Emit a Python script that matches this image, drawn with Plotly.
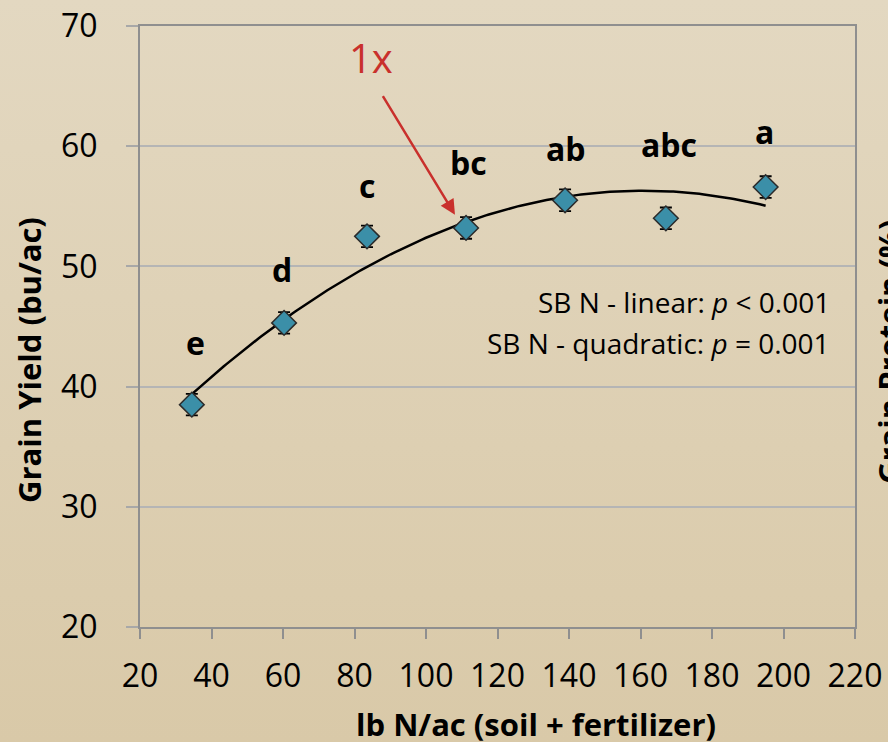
import base64
import numpy as np
import plotly.graph_objects as go

# Grain yield response to soil + fertilizer N
n_rate = [34.5, 60.3, 83.5, 111.2, 138.9, 167.1, 195.0]
yield_bu = [38.5, 45.3, 52.5, 53.2, 55.5, 54.0, 56.6]
yield_se = [0.9, 0.9, 0.9, 0.9, 0.9, 0.9, 0.9]
sig_letters = ["e", "d", "c", "bc", "ab", "abc", "a"]
letter_dx = [4, -2, 0, 2, 1, 3, -1]
letter_dy = [62, 53, 51, 65, 52, 74, 56]

# quadratic trend (vertex form): peak yield, N at peak, curvature
trend_peak = 56.3
trend_peak_n = 160.7
trend_curv = 0.001063

x_ticks = [20, 40, 60, 80, 100, 120, 140, 160, 180, 200, 220]
y_ticks = [20, 30, 40, 50, 60, 70]

W, H = 888, 742
ML, MR, MT, MB = 140, 33, 26, 115
PW, PH = W - ML - MR, H - MT - MB

FONT = "Open Sans"


def px_x(px):
    return (px - ML) / PW


def px_y(py):
    return (H - MB - py) / PH


xs = np.linspace(n_rate[0], n_rate[-1], 200)
ys = trend_peak - trend_curv * (xs - trend_peak_n) ** 2

fig = go.Figure()

fig.add_trace(go.Scatter(
    x=xs, y=ys, mode="lines",
    line=dict(color="black", width=2.5),
    hoverinfo="skip", showlegend=False,
))

fig.add_trace(go.Scatter(
    x=n_rate, y=yield_bu, mode="markers",
    marker=dict(symbol="diamond", size=19, color="#3b8fa8",
                line=dict(color="#2b2b2b", width=1.5)),
    error_y=dict(type="data", array=yield_se, visible=True,
                 color="black", thickness=1.8, width=6),
    showlegend=False,
))

annotations = []
for x, y, t, dx, dy in zip(n_rate, yield_bu, sig_letters, letter_dx, letter_dy):
    annotations.append(dict(
        x=x, y=y, text=f"<b>{t}</b>", showarrow=False,
        xshift=dx, yshift=dy,
        font=dict(family=FONT, size=32, color="black"),
    ))

annotations += [
    dict(x=213.6, y=47.0, xref="x", yref="y", xanchor="right",
         text="SB N - linear: <i>p</i> < 0.001", showarrow=False,
         font=dict(family=FONT, size=28, color="black")),
    dict(x=213.6, y=43.6, xref="x", yref="y", xanchor="right",
         text="SB N - quadratic: <i>p</i> = 0.001", showarrow=False,
         font=dict(family=FONT, size=28, color="black")),
    dict(x=84.6, y=67.4, xref="x", yref="y", text="1x", showarrow=False,
         font=dict(family=FONT, size=40, color="#c9302c")),
    dict(x=108.1, y=54.3, xref="x", yref="y", text="", showarrow=True,
         ax=-73, ay=-120, arrowhead=2, arrowsize=1.2, arrowwidth=2.5,
         arrowcolor="#c9302c", standoff=0, startstandoff=0),
    # axis titles
    dict(x=px_x(29), y=px_y(360), xref="paper", yref="paper",
         text="<b>Grain Yield (bu/ac)</b>", textangle=-90, showarrow=False,
         xanchor="center", yanchor="middle",
         font=dict(family=FONT, size=31, color="black")),
    dict(x=px_x(536), y=px_y(724), xref="paper", yref="paper",
         text="<b>lb N/ac (soil + fertilizer)</b>", showarrow=False,
         xanchor="center", yanchor="middle",
         font=dict(family=FONT, size=31, color="black")),
    dict(x=px_x(889), y=px_y(352), xref="paper", yref="paper",
         text="<b>Grain Protein (%)</b>", textangle=-90, showarrow=False,
         xanchor="center", yanchor="middle",
         font=dict(family=FONT, size=31, color="black")),
]

# tan page background with a soft vertical gradient
svg = (
    '<svg xmlns="http://www.w3.org/2000/svg" width="888" height="742">'
    '<defs><linearGradient id="g" x1="0" y1="0" x2="0" y2="1">'
    '<stop offset="0" stop-color="#e3d8c1"/>'
    '<stop offset="1" stop-color="#d9c9a8"/>'
    '</linearGradient></defs>'
    '<rect width="888" height="742" fill="url(#g)"/></svg>'
)
bg_src = "data:image/svg+xml;base64," + base64.b64encode(svg.encode()).decode()

fig.update_layout(
    width=W, height=H,
    margin=dict(l=ML, r=MR, t=MT, b=MB, autoexpand=False),
    paper_bgcolor="#ddcfb2",
    plot_bgcolor="#f2f2f2",
    font=dict(family=FONT, color="black"),
    annotations=annotations,
    images=[dict(source=bg_src, xref="paper", yref="paper",
                 x=-ML / PW, y=1 + MT / PH, sizex=W / PW, sizey=H / PH,
                 xanchor="left", yanchor="top", sizing="stretch",
                 layer="below")],
)

fig.update_xaxes(
    range=[20, 220], tickvals=x_ticks, ticktext=[str(v) for v in x_ticks],
    showgrid=False, zeroline=False, automargin=False,
    showline=True, linecolor="#8f8f8f", linewidth=2, mirror=True,
    ticks="outside", ticklen=10, tickwidth=2, tickcolor="#8f8f8f",
    ticklabelstandoff=10,
    tickfont=dict(family=FONT, size=32),
)
fig.update_yaxes(
    range=[20, 70], tickvals=y_ticks, ticktext=[str(v) for v in y_ticks],
    showgrid=True, gridcolor="#b5b5b5", gridwidth=2, zeroline=False,
    automargin=False,
    showline=True, linecolor="#8f8f8f", linewidth=2, mirror=True,
    ticks="outside", ticklen=12, tickwidth=2, tickcolor="#a8a8a8",
    ticklabelstandoff=22,
    tickfont=dict(family=FONT, size=32),
)

fig.write_html("out.html")
